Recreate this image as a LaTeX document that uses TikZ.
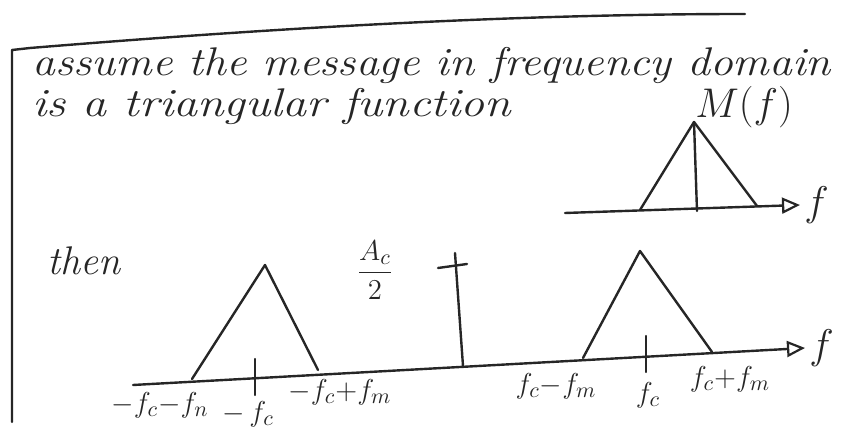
\documentclass[tikz,border=0pt]{standalone}
\usepackage{graphicx}
\usepackage{tikz}
\usetikzlibrary{arrows.meta, positioning}

\begin{document}
\begin{tikzpicture}[
    x=0.5pt, y=-0.5pt,
    pen/.style={draw=black!85, line width=1.2pt, line cap=round, line join=round},
    axis/.style={pen, -{Triangle[open, length=9pt, width=8pt, line width=1.1pt]}},
    hand/.style={font=\fontsize{20}{22}\selectfont\itshape, text=black!85, inner sep=1pt},
    lbl/.style={font=\fontsize{15}{18}\selectfont, text=black!85, inner sep=1pt}
]
    \useasboundingbox (0,0) rectangle (852,442);

    % Frame
    \draw[pen] (12,422) -- (12,50) -- (30,48) .. controls (250,30) and (500,14) .. (745,14);

    % Text
    \node[hand, anchor=base west] (line1) at (30,76) {\scalebox{1.14}[1]{assume the message in frequency domain}};
    \node[hand, anchor=base west] (line2) at (30,117) {\scalebox{1.2}[1]{is a triangular function}};
    \node[hand] (Mf) at (744,107) {$M(f)$};
    \node[hand, anchor=base west] (then) at (45,275) {then};

    % Message spectrum M(f)
    \coordinate (ma) at (565,213);
    \coordinate (mb) at (800,205);
    \coordinate (mtop) at (694,122);
    \coordinate (ml) at (640,210);
    \coordinate (mr) at (757,206);
    \coordinate (mc) at (697,211);
    \draw[axis] (ma) -- (mb);
    \node[hand, right=1pt of mb] (mf) {$f$};
    \draw[pen] (ml) -- (mtop) -- (mr);
    \draw[pen] (mtop) -- (mc);

    % Modulated spectrum
    \coordinate (ua) at (133,385);
    \coordinate (ub) at (805,348);
    \draw[axis] (ua) -- (ub);
    \node[hand, right=1pt of ub] (uf) {$f$};

    % Lower sideband triangle
    \coordinate (ll) at (192,379);
    \coordinate (ltop) at (265,265);
    \coordinate (lr) at (318,370);
    \coordinate (lc) at (255,377);
    \draw[pen] (ll) -- (ltop) -- (lr);
    \draw[pen] ([yshift=-9]lc) -- ([yshift=9]lc);

    % Carrier impulse
    \coordinate (cb) at (463,366);
    \coordinate (ct) at (455,253);
    \draw[pen] (cb) -- (ct);
    \draw[pen] (438,268) -- (467,264);
    \node[lbl] (amp) at (375,270) {$\displaystyle\frac{A_c}{2}$};

    % Upper sideband triangle
    \coordinate (rl) at (583,358);
    \coordinate (rtop) at (640,251);
    \coordinate (rr) at (712,352);
    \coordinate (rc) at (646,354);
    \draw[pen] (rl) -- (rtop) -- (rr);
    \draw[pen] ([yshift=-9]rc) -- ([yshift=9]rc);

    % Frequency labels
    \node[lbl] (lab1) at (160,405) {${-}f_c{-}f_n$};
    \node[lbl] (lab2) at (248,414) {${-}\,f_c$};
    \node[lbl] (lab3) at (340,392) {${-}f_c{+}f_m$};
    \node[lbl] (lab4) at (556,386) {$f_c{-}f_m$};
    \node[lbl] (lab5) at (648,395) {$f_c$};
    \node[lbl] (lab6) at (730,379) {$f_c{+}f_m$};
\end{tikzpicture}
\end{document}
